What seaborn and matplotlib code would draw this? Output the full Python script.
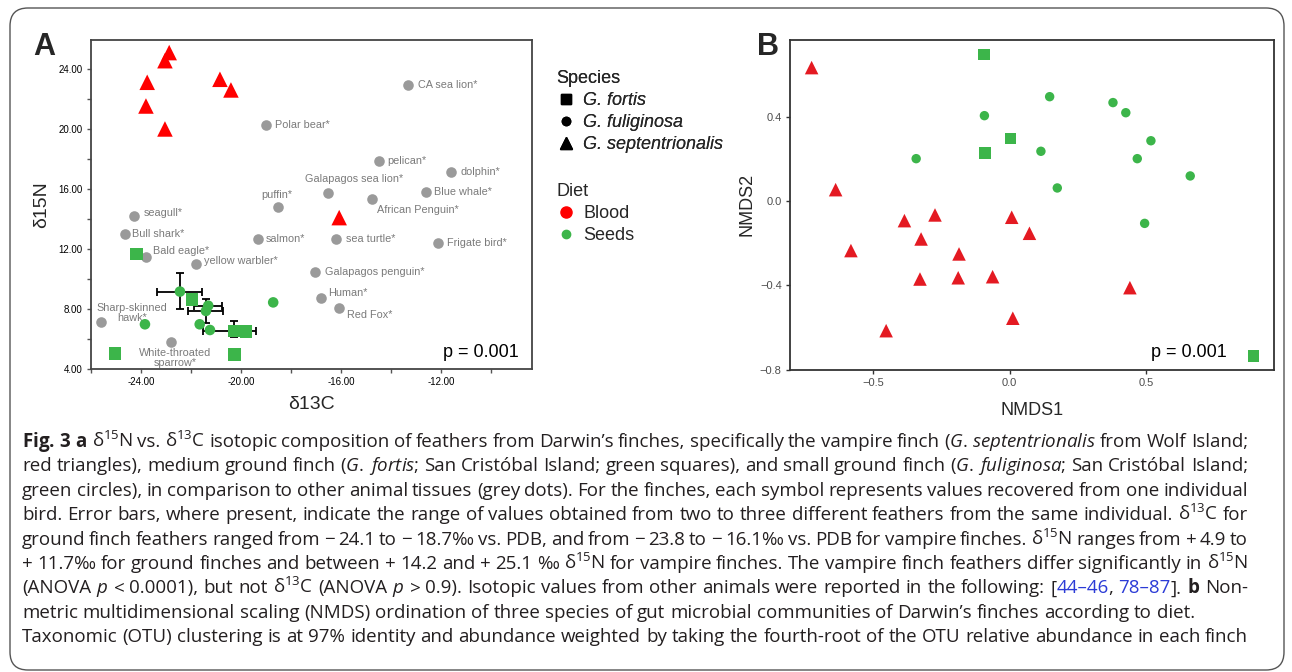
import re
import numpy as np
import pandas as pd
import seaborn as sns
import matplotlib.pyplot as plt
from matplotlib.lines import Line2D
from matplotlib.patches import FancyBboxPatch
from matplotlib.ticker import MultipleLocator, FuncFormatter

# ---- panel A: feather isotopes of the finches ----
finch_species = ['G. septentrionalis'] * 8 + ['G. fortis'] * 6 + ['G. fuliginosa'] * 7
finch_diet = ['Blood'] * 8 + ['Seeds'] * 13
finch_d13c = [-22.87, -23.04, -23.75, -23.80, -23.04, -20.84, -20.40, -16.07,
              -24.17, -21.95, -20.28, -19.80, -25.04, -20.25,
              -22.44, -21.31, -21.40, -21.65, -21.24, -23.84, -18.71]
finch_d15n = [25.09, 24.55, 23.11, 21.53, 20.00, 23.31, 22.60, 14.09,
              11.67, 8.64, 6.53, 6.49, 5.02, 4.98,
              9.16, 8.22, 7.87, 6.98, 6.60, 6.98, 8.44]

# range of values from several feathers of one bird
xerr_c13 = [-22.44, -21.31, -21.40, -20.28]
xerr_n15 = [9.16, 8.22, 7.87, 6.53]
xerr_lo = [-23.35, -21.87, -22.11, -21.53]
xerr_hi = [-21.55, -20.77, -20.71, -19.40]
yerr_c13 = [-22.44, -21.40, -20.28]
yerr_n15 = [9.16, 7.87, 6.53]
yerr_lo = [7.98, 7.05, 6.15]
yerr_hi = [10.38, 8.67, 7.22]

# other animals (grey dots)
ref_names = ['CA sea lion*', 'Polar bear*', 'pelican*', 'dolphin*', 'Galapagos sea lion*',
             'African Penguin*', 'Blue whale*', 'puffin*', 'sea turtle*', 'Frigate bird*',
             'salmon*', 'Galapagos penguin*', 'Human*', 'Red Fox*', 'seagull*', 'Bull shark*',
             'Bald eagle*', 'yellow warbler*', 'Sharp-skinned\nhawk*', 'White-throated\nsparrow*']
ref_d13c = [-13.32, -19.01, -14.49, -11.61, -16.51, -14.75, -12.60, -18.51, -16.21, -12.11,
            -19.31, -17.03, -16.81, -16.09, -24.29, -24.64, -23.80, -21.81, -25.61, -22.80]
ref_d15n = [22.91, 20.27, 17.89, 17.15, 15.71, 15.33, 15.78, 14.78, 12.67, 12.38,
            12.67, 10.49, 8.75, 8.09, 14.18, 12.98, 11.49, 11.00, 7.11, 5.80]

# ---- panel B: NMDS of gut microbiota ----
nmds_species = ['G. septentrionalis'] * 15 + ['G. fuliginosa'] * 11 + ['G. fortis'] * 4
nmds_diet = ['Blood'] * 15 + ['Seeds'] * 15
nmds1 = [-0.725, -0.637, -0.385, -0.273, 0.008, -0.324, -0.581, -0.185, -0.328, -0.188,
         -0.062, 0.012, -0.452, 0.073, 0.441,
         -0.342, -0.092, 0.147, 0.379, 0.426, 0.518, 0.115, 0.468, 0.662, 0.175, 0.495,
         -0.093, -0.090, 0.004, 0.893]
nmds2 = [0.633, 0.054, -0.093, -0.066, -0.077, -0.180, -0.235, -0.251, -0.370, -0.364,
         -0.359, -0.556, -0.615, -0.153, -0.411,
         0.201, 0.405, 0.495, 0.467, 0.419, 0.286, 0.236, 0.201, 0.119, 0.062, -0.106,
         0.694, 0.228, 0.296, -0.735]

caption = [
    r"$\mathbf{Fig.}$ $\mathbf{3}$ $\mathbf{a}$ δ$^{15}$N vs. δ$^{13}$C isotopic composition of feathers from Darwin’s finches, specifically the vampire finch ($\mathit{G.}$ $\mathit{septentrionalis}$ from Wolf Island;",
    r"red triangles), medium ground finch ($\mathit{G.}$ $\mathit{fortis}$; San Cristóbal Island; green squares), and small ground finch ($\mathit{G.}$ $\mathit{fuliginosa}$; San Cristóbal Island;",
    "green circles), in comparison to other animal tissues (grey dots). For the finches, each symbol represents values recovered from one individual",
    r"bird. Error bars, where present, indicate the range of values obtained from two to three different feathers from the same individual. δ$^{13}$C for",
    r"ground finch feathers ranged from − 24.1 to − 18.7‰ vs. PDB, and from − 23.8 to − 16.1‰ vs. PDB for vampire finches. δ$^{15}$N ranges from + 4.9 to",
    r"+ 11.7‰ for ground finches and between + 14.2 and + 25.1 ‰ δ$^{15}$N for vampire finches. The vampire finch feathers differ significantly in δ$^{15}$N",
    r"(ANOVA $\mathit{p}$ < 0.0001), but not δ$^{13}$C (ANOVA $\mathit{p}$ > 0.9). Isotopic values from other animals were reported in the following: [«44–46», «78–87»]. $\mathbf{b}$ Non-",
    "metric multidimensional scaling (NMDS) ordination of three species of gut microbial communities of Darwin’s finches according to diet.",
    "Taxonomic (OTU) clustering is at 97% identity and abundance weighted by taking the fourth-root of the OTU relative abundance in each finch",
]
justified = [True, True, True, True, True, True, True, False, True]

# label offsets for the grey animals (pixels right, pixels down, alignment)
label_pos = {
    'CA sea lion*': (10, 0, 'left'), 'Polar bear*': (9, 0, 'left'), 'pelican*': (9, 0, 'left'),
    'dolphin*': (10, 0, 'left'), 'Galapagos sea lion*': (26, -14, 'center'),
    'African Penguin*': (5, 11, 'left'), 'Blue whale*': (8, 0, 'left'),
    'puffin*': (-1, -12, 'center'), 'sea turtle*': (10, 0, 'left'),
    'Frigate bird*': (9, 0, 'left'), 'salmon*': (8, 0, 'left'),
    'Galapagos penguin*': (10, 0, 'left'), 'Human*': (7, -5, 'left'),
    'Red Fox*': (8, 7, 'left'), 'seagull*': (10, -3, 'left'), 'Bull shark*': (7, 0, 'left'),
    'Bald eagle*': (7, -6, 'left'), 'yellow warbler*': (8, -3, 'left'),
    'Sharp-skinned\nhawk*': (31, -9, 'center'), 'White-throated\nsparrow*': (4, 16, 'center'),
}

MARKERS = {'G. fortis': 's', 'G. fuliginosa': 'o', 'G. septentrionalis': '^'}
RED_A, RED_B, GREEN = '#ff0000', '#e41a22', '#3cb54a'
CAP_FONT = 'Open Sans'
CAP_COLOR = '#231f20'
LINK = '#2b3bd6'

sns.set_theme(style='ticks')
plt.rcParams['font.family'] = ['Liberation Sans', 'DejaVu Sans']
plt.rcParams['mathtext.fontset'] = 'custom'
plt.rcParams['mathtext.rm'] = CAP_FONT
plt.rcParams['mathtext.it'] = CAP_FONT + ':italic'
plt.rcParams['mathtext.bf'] = CAP_FONT + ':bold'

fig = plt.figure(figsize=(12.92, 6.72), dpi=100)
axA = fig.add_axes([0.0704, 0.4509, 0.3413, 0.4896])
axB = fig.add_axes([0.6115, 0.4499, 0.3748, 0.4906])

finch = pd.DataFrame({'d13C': finch_d13c, 'd15N': finch_d15n,
                      'Species': finch_species, 'Diet': finch_diet})
ref = pd.DataFrame({'d13C': ref_d13c, 'd15N': ref_d15n, 'name': ref_names})
nmds = pd.DataFrame({'NMDS1': nmds1, 'NMDS2': nmds2,
                     'Species': nmds_species, 'Diet': nmds_diet})

# ---------------- panel A ----------------
sns.scatterplot(data=ref, x='d13C', y='d15N', color='#9a9a9a', s=58, linewidth=0,
                ax=axA, zorder=2)
for _, r in ref.iterrows():
    dx, dy, ha = label_pos[r['name']]
    axA.annotate(r['name'], (r['d13C'], r['d15N']), xytext=(dx, -dy),
                 textcoords='offset pixels', ha=ha, va='center', fontsize=7.8,
                 color='#7a7a7a', multialignment='center', linespacing=1.0)

axA.errorbar(xerr_c13, xerr_n15,
             xerr=[np.subtract(xerr_c13, xerr_lo), np.subtract(xerr_hi, xerr_c13)],
             fmt='none', ecolor='black', elinewidth=1.3, capsize=3, capthick=1.3, zorder=3)
axA.errorbar(yerr_c13, yerr_n15,
             yerr=[np.subtract(yerr_n15, yerr_lo), np.subtract(yerr_hi, yerr_n15)],
             fmt='none', ecolor='black', elinewidth=1.3, capsize=3, capthick=1.3, zorder=3)

sns.scatterplot(data=finch, x='d13C', y='d15N', hue='Diet', style='Species', size='Species',
                palette={'Blood': RED_A, 'Seeds': GREEN}, markers=MARKERS,
                sizes={'G. fortis': 80, 'G. fuliginosa': 58, 'G. septentrionalis': 125},
                linewidth=0, legend=False, ax=axA, zorder=4)

axA.set_xlim(-26, -8.36)
axA.set_ylim(4, 25.93)
axA.xaxis.set_major_locator(MultipleLocator(4))
axA.xaxis.set_minor_locator(MultipleLocator(2))
axA.yaxis.set_major_locator(MultipleLocator(4))
axA.yaxis.set_minor_locator(MultipleLocator(2))
fmtA = FuncFormatter(lambda v, p: '%.2f' % v)
axA.xaxis.set_major_formatter(fmtA)
axA.yaxis.set_major_formatter(fmtA)
axA.tick_params(which='both', direction='out', length=3, width=1, color='#555555',
                labelsize=7, labelcolor='black', pad=3)
axA.set_xlabel('δ13C', fontsize=14, labelpad=6)
axA.set_ylabel('δ15N', fontsize=14, labelpad=6)
for sp in axA.spines.values():
    sp.set_visible(True)
    sp.set_color('#444444')
    sp.set_linewidth(1.3)
axA.text(0.97, 0.025, 'p = 0.001', transform=axA.transAxes, ha='right', va='bottom',
         fontsize=13, color='black')

# ---------------- panel B ----------------
sns.scatterplot(data=nmds, x='NMDS1', y='NMDS2', hue='Diet', style='Species', size='Species',
                palette={'Blood': RED_B, 'Seeds': GREEN}, markers=MARKERS,
                sizes={'G. fortis': 66, 'G. fuliginosa': 46, 'G. septentrionalis': 95},
                linewidth=0, legend=False, ax=axB, zorder=3)
axB.set_xlim(-0.804, 0.97)
axB.set_ylim(-0.8, 0.764)
axB.xaxis.set_major_locator(MultipleLocator(0.5))
axB.yaxis.set_major_locator(MultipleLocator(0.4))


def fmt_minus(v, p):
    if abs(v) < 1e-9:
        v = 0.0
    return ('%.1f' % v).replace('-', '−')


axB.xaxis.set_major_formatter(FuncFormatter(fmt_minus))
axB.yaxis.set_major_formatter(FuncFormatter(fmt_minus))
axB.tick_params(direction='out', length=3, width=1, color='#333333',
                labelsize=8, labelcolor='#4d4d4d', pad=3)
axB.set_xlabel('NMDS1', fontsize=13, labelpad=10)
axB.set_ylabel('NMDS2', fontsize=13, labelpad=3)
for sp in axB.spines.values():
    sp.set_visible(True)
    sp.set_color('#333333')
    sp.set_linewidth(1.3)
axB.text(0.745, 0.025, 'p = 0.001', transform=axB.transAxes, ha='left', va='bottom',
         fontsize=13, color='black')

# ---------------- legends ----------------
sp_handles = [Line2D([], [], marker='s', color='black', ls='', markersize=7),
              Line2D([], [], marker='o', color='black', ls='', markersize=6),
              Line2D([], [], marker='^', color='black', ls='', markersize=8)]
leg1 = fig.legend(sp_handles, ['G. fortis', 'G. fuliginosa', 'G. septentrionalis'],
                  title='Species', loc='upper left', bbox_to_anchor=(556 / 1292, 1 - 70 / 672),
                  frameon=False, alignment='left', prop={'style': 'italic', 'size': 13},
                  title_fontproperties={'size': 13}, handlelength=1.1, handletextpad=0.4,
                  labelspacing=0.28, borderpad=0, borderaxespad=0)
diet_handles = [Line2D([], [], marker='o', color=RED_A, ls='', markersize=8),
                Line2D([], [], marker='o', color=GREEN, ls='', markersize=6)]
fig.legend(diet_handles, ['Blood', 'Seeds'], title='Diet', loc='upper left',
           bbox_to_anchor=(556 / 1292, 1 - 183 / 672), frameon=False, alignment='left',
           prop={'size': 13}, title_fontproperties={'size': 13}, handlelength=1.1,
           handletextpad=0.4, labelspacing=0.28, borderpad=0, borderaxespad=0)
fig.add_artist(leg1)

# panel letters
fig.text(33 / 1292, 1 - 55 / 672, 'A', fontsize=22, fontweight='bold', va='baseline')
fig.text(757 / 1292, 1 - 55 / 672, 'B', fontsize=22, fontweight='bold', va='baseline')

# outer rounded frame
fig.patches.append(FancyBboxPatch((0.10, 0.02), 12.74, 6.62,
                                  boxstyle='round,pad=0,rounding_size=0.18',
                                  transform=fig.dpi_scale_trans, fill=False,
                                  edgecolor='#555555', linewidth=1.0))

# ---------------- caption ----------------
renderer = fig.canvas.get_renderer()


def pieces(word):
    parts = re.split(r'«([^»]*)»', word)
    return [(p, LINK if i % 2 else CAP_COLOR) for i, p in enumerate(parts) if p]


def width(s, fs):
    t = fig.text(0, 0, s, fontsize=fs, family=[CAP_FONT, 'DejaVu Sans'])
    w = t.get_window_extent(renderer).width
    t.remove()
    return w


def line_width(line, fs):
    words = line.split(' ')
    ws = sum(width(p, fs) for w in words for p, c in pieces(w))
    return ws, len(words)


base = 12
ws8, n8 = line_width(caption[7], base)
space0 = width('x x', base) - width('xx', base)
fs = base * 1168 / (ws8 + (n8 - 1) * space0)
space = width('x x', fs) - width('xx', fs)

x_left, x_right = 22, 1248
for i, line in enumerate(caption):
    baseline = 447 + i * 24.4
    words = line.split(' ')
    total, n = line_width(line, fs)
    gap = (x_right - x_left - total) / (n - 1) if justified[i] else space
    x = x_left
    for w in words:
        for p, c in pieces(w):
            t = fig.text(x / 1292, 1 - baseline / 672, p, fontsize=fs, color=c,
                         family=[CAP_FONT, 'DejaVu Sans'], va='baseline', ha='left')
            x += t.get_window_extent(renderer).width
        x += gap

fig.savefig('out.png', dpi=100)
